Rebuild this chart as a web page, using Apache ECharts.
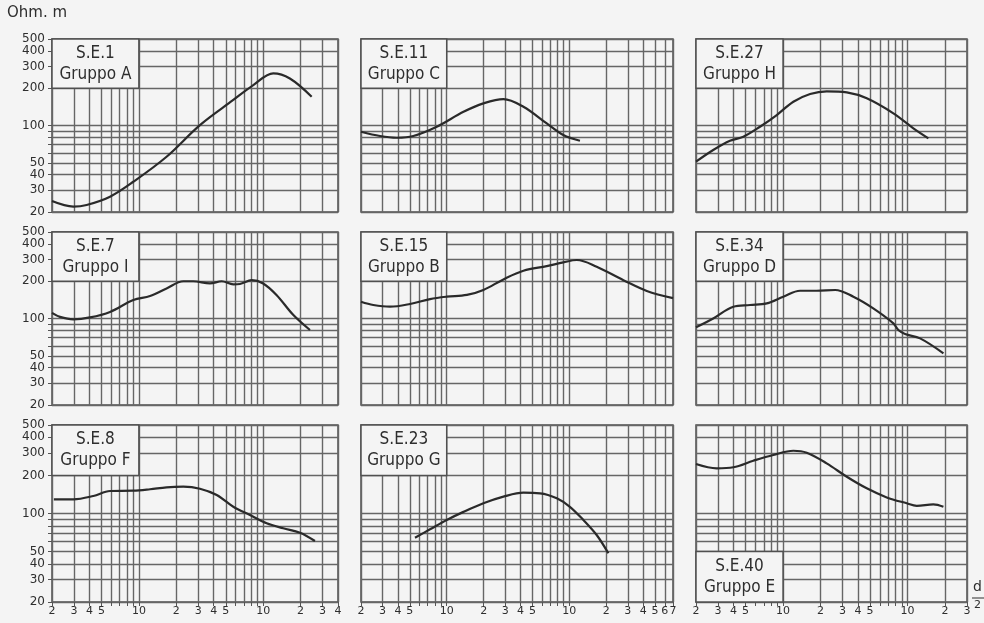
<!DOCTYPE html>
<html><head><meta charset="utf-8">
<script src="https://cdn.jsdelivr.net/npm/echarts@6/dist/echarts.min.js"></script>
<style>html,body{margin:0;padding:0;background:#f4f4f4}#c{width:984px;height:623px}</style>
</head><body><div id="c"></div>
<script>
// ---- data (x = d/2 in m, y = apparent resistivity in Ohm.m) ----
const se1  = [[2,24.5],[2.97,22.1],[3.8,22.8],[5.86,26.6],[9.02,35.1],[16.7,55.9],[31,100.8],[57.5,160.8],[83.3,212],[120.6,264],[164,240],[245.6,171]];
const se11 = [[2,89],[2.86,82.2],[3.91,79.6],[5.34,82.2],[8.29,97.7],[13.7,129],[19.9,151],[29,163.6],[42.2,141.8],[65.4,104],[89.3,83.8],[122,75.3]];
const se27 = [[2,51],[2.75,63.4],[3.75,75.3],[4.8,81.1],[6.53,97.7],[8.9,121.5],[12.1,155.6],[16.5,179.6],[22.4,188.8],[32.5,185],[47,165.8],[76.9,125.4],[111.3,94.9],[146.9,78.8]];
const se7  = [[2,111],[2.32,103],[2.97,98.5],[4.04,102],[5.86,113],[9.02,141],[12.3,152],[16.7,175],[22.8,200],[27.4,200],[37.3,192],[46.4,200],[57.5,189],[65,190],[80.8,204],[100,192],[128,155],[175,106.6],[238,80.7]];
const se15 = [[2,136.6],[2.52,128.5],[3.45,124.5],[5.02,131],[7.31,143.6],[10,150],[14.6,155],[19.9,170],[29,207],[42.2,243],[65.4,265],[89.3,284],[115,297],[167,262],[276,204],[428,167],[700,146]];
const se34 = [[2,84.9],[2.75,100],[3.99,124.5],[5.43,128.5],[7.4,132.6],[10.05,150],[13.7,167.6],[18.6,167.6],[26.2,170],[36.7,150],[53,120.8],[76.9,91.4],[84.3,80.7],[95.4,74.9],[126,69.1],[194,52.3]];
const se8  = [[2.07,129.5],[2.97,129.5],[4.3,137.5],[5.86,150.6],[9.02,151.4],[12.3,155.4],[16.7,161],[22.8,162.8],[31,157],[42.3,140],[57.5,113],[78.3,97.3],[106.8,83.7],[145,76.4],[198,70.5],[261,60.6]];
const se23 = [[5.51,64.4],[7.31,75],[10,88.9],[13.7,103],[19.9,120.4],[29,135.8],[42.2,146],[57.7,144.4],[79,131.9],[101,113],[130,88.9],[167,67.6],[208,48.5]];
const se40 = [[2,246],[2.93,227.6],[3.99,231.8],[5.77,261],[8.35,290],[12.1,313],[15.5,302],[22.4,249],[32.5,195],[47,158],[68,134],[98.5,120.4],[118.5,115],[161,118],[194,113]];

const panelData   = [se1, se11, se27, se7, se15, se34, se8, se23, se40];
const panelTitles = ['S.E.1\nGruppo A','S.E.11\nGruppo C','S.E.27\nGruppo H',
                     'S.E.7\nGruppo I','S.E.15\nGruppo B','S.E.34\nGruppo D',
                     'S.E.8\nGruppo F','S.E.23\nGruppo G','S.E.40\nGruppo E'];
// label box corners [x0, y0, x1, y1] in data units
const boxCorners  = [[2,200,10,500],[2,200,10,500],[2,200,10,500],
                     [2,200,10,500],[2,200,10,500],[2,200,10,500],
                     [2,200,10,500],[2,200,10,500],[2,20,10,50]];

const xMaxByCol   = [400, 700, 300];
const yRange      = [20, 500];
const yGridValues = [20,30,40,50,60,70,80,90,100,200,300,400,500];
const yTickLabels = [20,30,40,50,100,200,300,400,500];
const xGridCol    = [
  [2,3,4,5,6,7,8,9,10,20,30,40,50,60,70,80,90,100,200,300,400],
  [2,3,4,5,6,7,8,9,10,20,30,40,50,60,70,80,90,100,200,300,400,500,600,700],
  [2,3,4,5,6,7,8,9,10,20,30,40,50,60,70,80,90,100,200,300]
];
const xTickLabels = [
  [2,3,4,5,10,20,30,40,50,100,200,300,400],
  [2,3,4,5,10,20,30,40,50,100,200,300,400,500,600,700],
  [2,3,4,5,10,20,30,40,50,100,200,300]
];

// ---- layout ----
const colLeft = [52, 361, 696], colWidth = [286, 312, 271];
const rowTop = [39, 232, 425], rowHeight = [173, 173, 177];

const GRIDC = '#666';
const TXT = '#2e2e2e';
const FONT = '"DejaVu Sans Condensed","Liberation Sans Narrow","DejaVu Sans",sans-serif';
const TICKFONT = '"DejaVu Sans",sans-serif';

function xFmt(v) {
  const l = Math.log10(v);
  if (Math.abs(l - Math.round(l)) < 1e-9) return '10';
  return String(Math.round(v / Math.pow(10, Math.floor(l + 1e-9))));
}

const grids = [], xAxes = [], yAxes = [], series = [];
for (let i = 0; i < 9; i++) {
  const r = Math.floor(i / 3), c = i % 3;
  grids.push({left: colLeft[c], top: rowTop[r], width: colWidth[c], height: rowHeight[r],
    show: true, borderColor: '#505050', borderWidth: 1.5, backgroundColor: 'transparent'});
  xAxes.push({
    type: 'log', logBase: 10, gridIndex: i, min: 2, max: xMaxByCol[c],
    axisLine: {show: false},
    axisTick: {show: r === 2, length: 4, inside: false, customValues: xGridCol[c], lineStyle: {color: '#555'}},
    axisLabel: {show: r === 2, customValues: xTickLabels[c], formatter: xFmt, margin: 4,
      color: TXT, fontSize: 11, fontFamily: TICKFONT, showMinLabel: true, showMaxLabel: true},
    splitLine: {show: true, lineStyle: {color: GRIDC, width: 1.4}},
    minorSplitLine: {show: false}
  });
  yAxes.push({
    type: 'log', logBase: 10, gridIndex: i, min: yRange[0], max: yRange[1],
    axisLine: {show: false},
    axisTick: {show: c === 0, length: 4, customValues: yGridValues, lineStyle: {color: '#555'}},
    axisLabel: {show: c === 0, customValues: yTickLabels, margin: 7, color: TXT, fontSize: 12,
      fontFamily: TICKFONT, showMinLabel: true, showMaxLabel: true},
    splitLine: {show: true, lineStyle: {color: GRIDC, width: 1.4}}
  });
  const b = boxCorners[i];
  series.push({
    type: 'line', xAxisIndex: i, yAxisIndex: i, data: panelData[i],
    smooth: 0.35, showSymbol: false, silent: true, z: 5,
    lineStyle: {color: '#2a2a2a', width: 2.2},
    markArea: {
      silent: true,
      itemStyle: {color: '#f4f4f4', opacity: 1, borderColor: '#505050', borderWidth: 1.5},
      label: {show: true, position: 'inside', color: TXT, fontSize: 17, lineHeight: 21,
        fontFamily: FONT, formatter: panelTitles[i]},
      data: [[{coord: [b[0], b[1]]}, {coord: [b[2], b[3]]}]]
    }
  });
}

const chart = echarts.init(document.getElementById('c'), null, {renderer: 'canvas'});
chart.setOption({
  backgroundColor: '#f4f4f4',
  animation: false,
  grid: grids, xAxis: xAxes, yAxis: yAxes, series: series,
  graphic: [
    {type: 'text', left: 7, top: 6, style: {text: 'Ohm. m', fontSize: 15, fill: TXT, fontFamily: TICKFONT}},
    {type: 'text', left: 973, top: 580, style: {text: 'd', fontSize: 14, fill: TXT, fontFamily: TICKFONT}},
    {type: 'line', shape: {x1: 972, y1: 598, x2: 984, y2: 598}, style: {stroke: TXT, lineWidth: 1}},
    {type: 'text', left: 974, top: 600, style: {text: '2', fontSize: 11, fill: TXT, fontFamily: TICKFONT}}
  ]
});
</script></body></html>
